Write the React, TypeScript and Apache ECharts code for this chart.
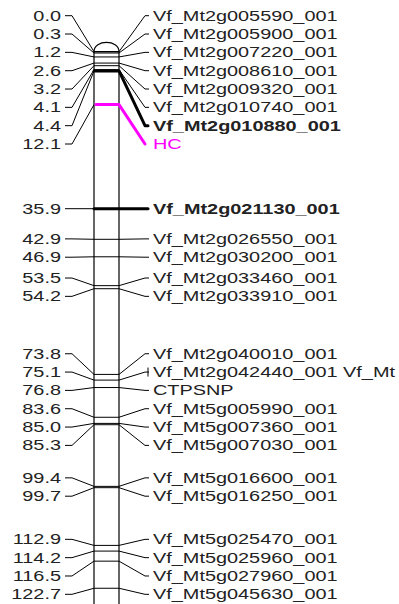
import { useEffect, useRef } from 'react';
import * as echarts from 'echarts';

// Linkage group: marker positions (cM) and marker names, top to bottom
const positions = [
  0.0, 0.3, 1.2, 2.6, 3.2, 4.1, 4.4, 12.1, 35.9, 42.9, 46.9, 53.5, 54.2,
  73.8, 75.1, 76.8, 83.6, 85.0, 85.3, 99.4, 99.7, 112.9, 114.2, 116.5, 122.7,
];
const markerNames = [
  'Vf_Mt2g005590_001', 'Vf_Mt2g005900_001', 'Vf_Mt2g007220_001', 'Vf_Mt2g008610_001',
  'Vf_Mt2g009320_001', 'Vf_Mt2g010740_001', 'Vf_Mt2g010880_001', 'HC',
  'Vf_Mt2g021130_001', 'Vf_Mt2g026550_001', 'Vf_Mt2g030200_001', 'Vf_Mt2g033460_001',
  'Vf_Mt2g033910_001', 'Vf_Mt2g040010_001', 'Vf_Mt2g042440_001 Vf_Mt', 'CTPSNP',
  'Vf_Mt5g005990_001', 'Vf_Mt5g007360_001', 'Vf_Mt5g007030_001', 'Vf_Mt5g016600_001',
  'Vf_Mt5g016250_001', 'Vf_Mt5g025470_001', 'Vf_Mt5g025960_001', 'Vf_Mt5g027960_001',
  'Vf_Mt5g045630_001',
];
const boldMarkers = ['Vf_Mt2g010880_001', 'Vf_Mt2g021130_001'];
const traitMarkers = ['HC'];
const sharedPositionMarkers = ['Vf_Mt2g042440_001 Vf_Mt'];

// Layout (pixels)
const GRID_TOP = 51.7;
const AXIS_MAX = 126.3;
const BAR_LEFT = 94;
const BAR_RIGHT = 119;
const LEFT_TEXT_X = 61;
const LEFT_TICK_X = 65;
const LEFT_ELBOW_X = 72;
const RIGHT_ELBOW_X = 145;
const RIGHT_TICK_X = 149;
const RIGHT_TEXT_X = 153;
const LABEL_GAP = 18.33;
const LABEL_TOP = 15.7;
const TEXT_SCALE_X = 1.42;
const FONT_FAMILY = '"Liberation Sans", Arial, sans-serif';
const TEXT_COLOR = '#222';
const TRAIT_COLOR = '#ff00ff';

// Spread labels so they never overlap: neighbouring markers are grouped into
// clusters, each centred on the midpoint of its span, and clusters that collide
// are merged until everything fits.
function layoutLabels(ys: number[]): number[] {
  let clusters = ys.map((_, i) => ({ start: i, end: i }));
  const topOf = (c: { start: number; end: number }) => {
    const n = c.end - c.start + 1;
    const mid = (ys[c.start] + ys[c.end]) / 2;
    return Math.max(LABEL_TOP, mid - ((n - 1) * LABEL_GAP) / 2);
  };
  let merged = true;
  while (merged) {
    merged = false;
    for (let i = 0; i < clusters.length - 1; i++) {
      const a = clusters[i];
      const b = clusters[i + 1];
      const aBottom = topOf(a) + (a.end - a.start) * LABEL_GAP;
      if (aBottom + LABEL_GAP > topOf(b) + 1e-6) {
        clusters = [
          ...clusters.slice(0, i),
          { start: a.start, end: b.end },
          ...clusters.slice(i + 2),
        ];
        merged = true;
        break;
      }
    }
  }
  const out: number[] = new Array(ys.length);
  clusters.forEach((c) => {
    const t = topOf(c);
    for (let k = c.start; k <= c.end; k++) out[k] = t + (k - c.start) * LABEL_GAP;
  });
  return out;
}

function textEl(x: number, y: number, text: string, align: string, fill: string, bold: boolean) {
  return {
    type: 'text',
    x,
    y,
    scaleX: TEXT_SCALE_X,
    style: {
      text,
      x: 0,
      y: 0,
      fill,
      font: `${bold ? 'bold ' : ''}14px ${FONT_FAMILY}`,
      align,
      verticalAlign: 'middle',
      textAlign: align,
      textVerticalAlign: 'middle',
    },
  };
}

function renderChromosome(_params: any, api: any) {
  const y0 = api.coord([0, 0])[1];
  const y1 = api.coord([0, AXIS_MAX])[1];
  const stroke = { stroke: '#000', lineWidth: 1.2, fill: 'none' };
  return {
    type: 'group',
    children: [
      {
        type: 'rect',
        shape: { x: BAR_LEFT, y: y0, width: BAR_RIGHT - BAR_LEFT, height: y1 - y0 + 20 },
        style: { fill: '#fff', stroke: '#000', lineWidth: 1.2 },
      },
      {
        type: 'bezierCurve',
        shape: {
          x1: BAR_LEFT, y1: y0, x2: BAR_RIGHT, y2: y0,
          cpx1: BAR_LEFT, cpy1: y0 - 12.4, cpx2: BAR_RIGHT, cpy2: y0 - 12.4,
        },
        style: stroke,
      },
    ],
  };
}

function renderMarker(params: any, api: any) {
  const i = params.dataIndex;
  const ys = positions.map((p) => api.coord([0, p])[1]);
  const labelYs = layoutLabels(ys);
  const y = ys[i];
  const ly = labelYs[i];
  const name = markerNames[i];
  const isBold = boldMarkers.includes(name);
  const isTrait = traitMarkers.includes(name);
  const thin = { stroke: '#000', lineWidth: 1, fill: 'none' };
  const children: any[] = [
    {
      type: 'polyline',
      shape: { points: [[LEFT_TICK_X, ly], [LEFT_ELBOW_X, ly], [BAR_LEFT, y]] },
      style: thin,
    },
    textEl(LEFT_TEXT_X, ly, positions[i].toFixed(1), 'right', TEXT_COLOR, false),
  ];
  if (isTrait) {
    children.push({
      type: 'polyline',
      shape: { points: [[BAR_LEFT + 2, y], [BAR_RIGHT, y], [RIGHT_ELBOW_X, ly]] },
      style: { stroke: TRAIT_COLOR, lineWidth: 3, fill: 'none', lineCap: 'round', lineJoin: 'round' },
    });
  } else if (isBold) {
    children.push({
      type: 'polyline',
      shape: { points: [[BAR_LEFT, y], [BAR_RIGHT, y], [RIGHT_ELBOW_X, ly], [RIGHT_TICK_X - 1, ly]] },
      style: { stroke: '#000', lineWidth: 3, fill: 'none', lineCap: 'round', lineJoin: 'round' },
    });
  } else {
    children.push(
      { type: 'line', shape: { x1: BAR_LEFT, y1: y, x2: BAR_RIGHT, y2: y }, style: thin },
      {
        type: 'polyline',
        shape: { points: [[BAR_RIGHT, y], [RIGHT_ELBOW_X, ly], [RIGHT_TICK_X, ly]] },
        style: thin,
      },
    );
  }
  if (sharedPositionMarkers.includes(name)) {
    children.push({
      type: 'line',
      shape: { x1: RIGHT_TICK_X - 1, y1: ly - 4.5, x2: RIGHT_TICK_X - 1, y2: ly + 4.5 },
      style: thin,
    });
  }
  children.push(
    textEl(RIGHT_TEXT_X, ly, name, 'left', isTrait ? TRAIT_COLOR : TEXT_COLOR, isBold),
  );
  return { type: 'group', children };
}

export default function App() {
  const ref = useRef<HTMLDivElement>(null);
  useEffect(() => {
    if (!ref.current) return;
    const chart = echarts.init(ref.current, undefined, { renderer: 'svg' });
    chart.setOption({
      animation: false,
      backgroundColor: '#fff',
      grid: { left: 0, right: 0, top: GRID_TOP, bottom: 0 },
      xAxis: { type: 'value', min: 0, max: 1, show: false },
      yAxis: { type: 'value', min: 0, max: AXIS_MAX, inverse: true, show: false },
      series: [
        {
          type: 'custom',
          silent: true,
          renderItem: renderChromosome,
          data: [[0, 0]],
        },
        {
          type: 'custom',
          silent: true,
          renderItem: renderMarker,
          data: positions.map((p) => [0, p]),
        },
      ],
    });
    return () => chart.dispose();
  }, []);
  return (
    <div
      ref={ref}
      style={{ position: 'absolute', left: 0, top: 0, width: 399, height: 604 }}
    />
  );
}
